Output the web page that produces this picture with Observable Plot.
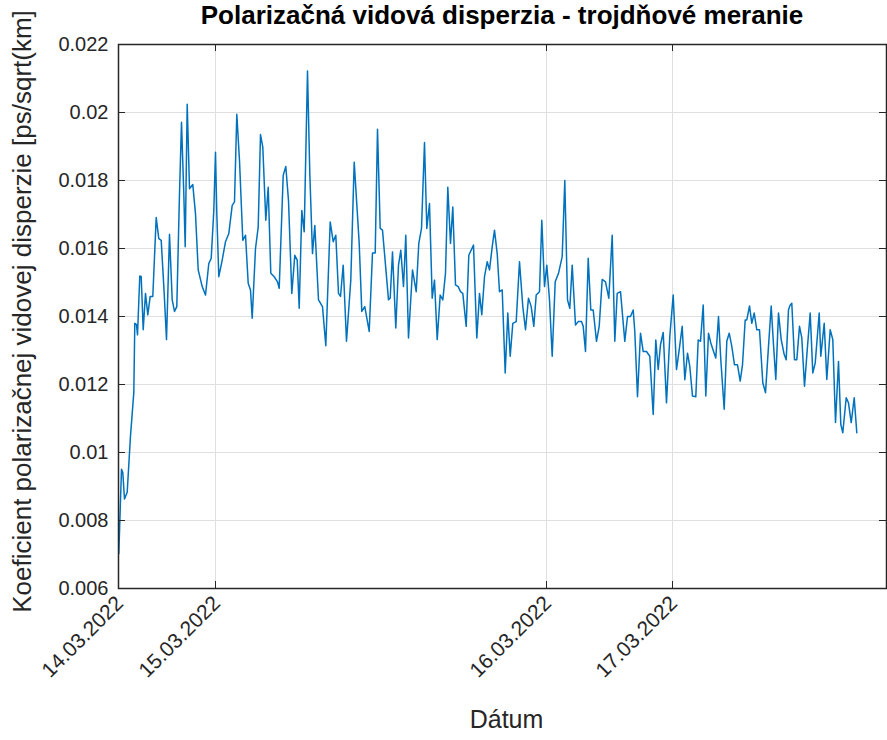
<!DOCTYPE html>
<html><head><meta charset="utf-8">
<script src="https://cdn.jsdelivr.net/npm/d3@7"></script>
<script src="https://cdn.jsdelivr.net/npm/@observablehq/plot@0.6"></script>
<style>
body{margin:0;background:#fff;}
#chart{position:relative;width:887px;height:740px;}
#title{position:absolute;left:118px;top:0;width:768px;height:36px;line-height:36px;text-align:center;font:bold 26px "Liberation Sans",Arial,sans-serif;color:#000;white-space:nowrap;z-index:2;}
#chart svg{position:absolute;left:0;top:0;}
</style></head><body>
<div id="chart"><div id="title">Polarizačná vidová disperzia - trojdňové meranie</div></div>
<script>
// measurement position (sample axis) and PMD coefficient values
const sample = [0.3,3,4.3,6,8.7,12,15.3,16.3,18,19,
21.3,22.7,24.7,27,29.3,31.7,34.3,37.7,40.3,42.7,
45.7,48,51,53.7,56,58.3,61,63,65.3,66.7,
68.7,71,74.3,77,79.7,83.7,87,90.3,92.7,95.3,
97,98.3,100.3,103.7,107,110.3,113.7,116,118.3,121,
124.3,127,129.7,132,133.7,137,139.7,142,144.3,147.3,
149.7,152.3,155.7,159,160.7,164.7,167.3,170,173.3,176.3,
178.7,180.7,183.3,185.7,189,191.3,194,196.3,200,204,
207.3,211.7,214.7,217.3,220,222,224.7,228,232.3,235.7,
240.7,243.3,246.3,250.7,254,256.7,259,261.7,264,270,
271.7,274,277.3,280,282.3,285,287.3,290,294,297.7,
300.3,303,306,308.3,311,313.7,316,318.7,321.7,324.3,
327,329.3,332,334.3,337,339.7,342,344.3,347.7,350.3,
355,358.3,361,363.3,366,368.7,371,373.7,376,378.7,
381,383.7,386.7,389.3,391.7,394.3,397.7,401,404.3,407,
410,412.7,415.3,417.7,421,423.3,426,428.3,431,433.7,
436.7,440,443.7,446.3,449,451.3,453.7,457,459.7,463,
464.7,467,469.7,472.3,474.7,478,480.7,483.7,487,490.3,
493.7,496.3,498.7,502,506.3,509,512,514.7,516.3,519,
522,524.7,528,531.3,534.7,537.3,539.7,542,544.7,548,
551.3,554.7,558,560.7,563.7,566.3,569,571.3,574,577.3,
579.7,582,584.7,587.3,590,592.3,595,597.3,600,602.3,
605.7,608.3,610.7,613.3,616,619,621.7,624,626.7,628.3,
631,633.3,635.7,638.3,641,644.3,647,650,652.7,655,
657.3,660,662.7,665.7,667.7,670,671.7,673.3,676,678.3,
681,683.3,686,689,691.7,694.3,696.7,700.7,702.3,705.7,
708.3,711.7,714.3,717,720,722.3,724.3,727.7,730,732.7,
735.7,738.3];
const pmd = [0.00702,0.00951,0.00941,0.00863,0.00883,0.01049,0.01176,0.01380,0.01376,0.01346,
0.01519,0.01517,0.01361,0.01468,0.01405,0.01459,0.01459,0.01691,0.01629,0.01624,
0.01468,0.01332,0.01642,0.01449,0.01415,0.01429,0.01761,0.01971,0.01761,0.01605,
0.02024,0.01776,0.01788,0.01702,0.01537,0.01488,0.01463,0.01556,0.01571,0.01712,
0.01883,0.01702,0.01517,0.01566,0.01620,0.01644,0.01727,0.01737,0.01995,0.01859,
0.01624,0.01639,0.01498,0.01478,0.01395,0.01600,0.01663,0.01935,0.01898,0.01683,
0.01780,0.01527,0.01517,0.01502,0.01483,0.01815,0.01841,0.01741,0.01468,0.01580,
0.01566,0.01424,0.01712,0.01649,0.02122,0.01820,0.01585,0.01668,0.01449,0.01429,
0.01314,0.01678,0.01620,0.01639,0.01468,0.01459,0.01551,0.01327,0.01507,0.01854,
0.01615,0.01415,0.01429,0.01356,0.01587,0.01587,0.01951,0.01659,0.01654,0.01449,
0.01454,0.01590,0.01366,0.01551,0.01595,0.01488,0.01639,0.01337,0.01537,0.01473,
0.01615,0.01659,0.01912,0.01659,0.01732,0.01454,0.01507,0.01332,0.01463,0.01449,
0.01527,0.01780,0.01615,0.01722,0.01493,0.01488,0.01473,0.01468,0.01371,0.01580,
0.01610,0.01337,0.01468,0.01405,0.01517,0.01561,0.01537,0.01605,0.01654,0.01585,
0.01473,0.01478,0.01234,0.01410,0.01283,0.01380,0.01385,0.01561,0.01429,0.01361,
0.01454,0.01429,0.01371,0.01463,0.01473,0.01683,0.01488,0.01551,0.01449,0.01283,
0.01502,0.01527,0.01576,0.01800,0.01449,0.01424,0.01551,0.01375,0.01385,0.01385,
0.01371,0.01297,0.01571,0.01419,0.01419,0.01327,0.01371,0.01509,0.01502,0.01454,
0.01639,0.01327,0.01468,0.01473,0.01327,0.01400,0.01400,0.01419,0.01356,0.01164,
0.01351,0.01297,0.01297,0.01283,0.01112,0.01331,0.01244,0.01317,0.01353,0.01146,
0.01341,0.01463,0.01244,0.01302,0.01371,0.01214,0.01292,0.01253,0.01166,0.01164,
0.01331,0.01327,0.01434,0.01166,0.01351,0.01322,0.01298,0.01278,0.01400,0.01273,
0.01127,0.01327,0.01351,0.01312,0.01258,0.01258,0.01210,0.01258,0.01390,0.01390,
0.01431,0.01380,0.01410,0.01361,0.01361,0.01205,0.01176,0.01312,0.01431,0.01317,
0.01215,0.01410,0.01332,0.01288,0.01273,0.01420,0.01434,0.01439,0.01273,0.01273,
0.01371,0.01337,0.01195,0.01312,0.01410,0.01234,0.01263,0.01410,0.01283,0.01380,
0.01215,0.01361,0.01332,0.01088,0.01268,0.01083,0.01058,0.01161,0.01146,0.01088,
0.01161,0.01058];
const yTicks = [0.006,0.008,0.010,0.012,0.014,0.016,0.018,0.020,0.022];
const yTickLabels = ["0.006","0.008","0.01","0.012","0.014","0.016","0.018","0.02","0.022"];
const dateTickPos = [0,97,428,554];
const dateTickLabels = ["14.03.2022","15.03.2022","16.03.2022","17.03.2022"];
const xDomain = [0,768];

const W=887,H=740,mL=118,mR=1,mT=44,mB=152;
const innerW=W-mL-mR, innerH=H-mT-mB, tickLen=7;
const n = Math.min(sample.length, pmd.length);
const data = d3.range(n).map(i=>({s:sample[i], v:pmd[i]}));
const yt = yTicks.map((v,i)=>({v, label:yTickLabels[i]}));
const xt = dateTickPos.map((p,i)=>({p, label:dateTickLabels[i]}));
const axisColor="#262626";
const chart = Plot.plot({
  width:W, height:H, marginLeft:mL, marginRight:mR, marginTop:mT, marginBottom:mB,
  style:{fontFamily:'"Liberation Sans", Arial, sans-serif', color:axisColor, background:"transparent"},
  x:{domain:xDomain, axis:null},
  y:{domain:[yTicks[0], yTicks[yTicks.length-1]], axis:null},
  marks:[
    Plot.ruleY(yTicks.slice(1,-1), {stroke:"#dfdfdf", strokeWidth:1}),
    Plot.ruleX(dateTickPos.slice(1), {stroke:"#dfdfdf", strokeWidth:1}),
    Plot.line(data, {x:"s", y:"v", stroke:"#0072BD", strokeWidth:1.5}),
    Plot.tickY(yTicks, {y:d=>d, stroke:axisColor, insetRight:innerW-tickLen}),
    Plot.tickY(yTicks, {y:d=>d, stroke:axisColor, insetLeft:innerW-tickLen}),
    Plot.tickX(dateTickPos, {x:d=>d, stroke:axisColor, insetTop:innerH-tickLen}),
    Plot.tickX(dateTickPos, {x:d=>d, stroke:axisColor, insetBottom:innerH-tickLen}),
    Plot.frame({stroke:axisColor, strokeWidth:1.5}),
    Plot.text(yt, {y:"v", text:"label", frameAnchor:"left", textAnchor:"end", dx:-10, fontSize:20, fill:axisColor}),
    Plot.text(xt, {x:"p", text:"label", frameAnchor:"bottom", rotate:-45, textAnchor:"end", dx:6, dy:16, fontSize:21, fill:axisColor}),
    Plot.text(["Koeficient polarizačnej vidovej disperzie [ps/sqrt(km]"], {text:d=>d, frameAnchor:"left", textAnchor:"middle", rotate:-90, dx:-96, dy:-5, fontSize:26, fill:axisColor}),
    Plot.text(["Dátum"], {text:d=>d, frameAnchor:"bottom", textAnchor:"middle", dx:4, dy:139, fontSize:25, fill:axisColor})
  ]
});
document.getElementById("chart").appendChild(chart);
</script>
</body></html>
